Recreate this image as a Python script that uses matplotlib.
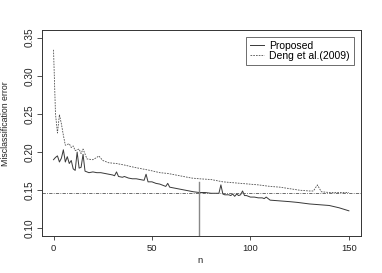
import numpy as np
import matplotlib
matplotlib.use('Agg')
import matplotlib.pyplot as plt

# values
n_prop = [0, 1, 2, 3, 4, 5, 6, 7, 8, 9, 10, 11, 12, 13, 14, 15, 16, 17, 18, 20,
          22, 24, 26, 28, 30, 31, 32, 33, 35, 36, 38, 40, 42, 44, 46, 47, 48, 50,
          52, 54, 56, 57, 58, 59, 61, 63, 65, 67, 69, 71, 74, 77, 80, 83, 84, 85,
          86, 87, 89, 90, 91, 92, 93, 94, 95, 96, 97, 98, 100, 102, 104, 106, 107,
          108, 109, 110, 115, 120, 124, 130, 135, 140, 145, 150]
err_prop = [0.190, 0.193, 0.195, 0.187, 0.192, 0.203, 0.187, 0.194, 0.185, 0.189,
            0.178, 0.176, 0.200, 0.179, 0.180, 0.197, 0.175, 0.174, 0.173, 0.174,
            0.173, 0.173, 0.172, 0.171, 0.170, 0.169, 0.174, 0.168, 0.167, 0.168,
            0.166, 0.165, 0.165, 0.164, 0.163, 0.171, 0.161, 0.161, 0.159, 0.158,
            0.156, 0.155, 0.159, 0.154, 0.153, 0.152, 0.151, 0.150, 0.149, 0.148,
            0.147, 0.147, 0.146, 0.146, 0.146, 0.157, 0.145, 0.144, 0.144, 0.143,
            0.145, 0.142, 0.145, 0.143, 0.144, 0.149, 0.143, 0.143, 0.141, 0.141,
            0.140, 0.140, 0.139, 0.141, 0.139, 0.137, 0.136, 0.135, 0.134, 0.132,
            0.131, 0.130, 0.127, 0.123]

n_deng = [0, 1, 2, 3, 4, 5, 6, 8, 9, 10, 11, 13, 14, 15, 17, 20, 22, 23, 25, 28,
          32, 36, 41, 45, 49, 54, 58, 62, 66, 70, 74, 80, 86, 95, 104, 110, 115,
          120, 125, 130, 132, 134, 136, 140, 145, 150]
err_deng = [0.334, 0.250, 0.225, 0.249, 0.237, 0.222, 0.209, 0.211, 0.206, 0.208,
            0.202, 0.204, 0.198, 0.204, 0.191, 0.190, 0.193, 0.195, 0.189, 0.186,
            0.185, 0.183, 0.180, 0.178, 0.176, 0.173, 0.172, 0.170, 0.168, 0.166,
            0.165, 0.164, 0.161, 0.159, 0.157, 0.155, 0.154, 0.152, 0.150, 0.149,
            0.149, 0.157, 0.148, 0.147, 0.147, 0.147]

h_level = 0.1465
v_at = 74
v_top = 0.161

xticks = [0, 50, 100, 150]
yticks = [0.10, 0.15, 0.20, 0.25, 0.30, 0.35]

narrow = ['Liberation Sans Narrow', 'Liberation Sans']

plt.rcParams.update({'font.family': 'Liberation Sans',
                     'font.size': 6.5,
                     'axes.linewidth': 0.7,
                     'axes.edgecolor': '#333333'})

fig = plt.figure(figsize=(3.82, 2.73), dpi=100)
ax = fig.add_axes([41.7/382, 1-236/273, 319/382, 206/273])

ax.plot(n_prop, err_prop, color='#383838', lw=0.7, label='Proposed')
ax.plot(n_deng, err_deng, color='#505050', lw=0.6, dashes=(2, 1.3),
        label='Deng et al.(2009)')
ax.axhline(h_level, color='#555555', lw=0.6, dashes=(4, 1.5, 1, 1.5))
ax.plot([v_at, v_at], [0.09, v_top], color='#888888', lw=1.0)

ax.set_xlim(-6, 156)
ax.set_ylim(0.09, 0.36)
ax.set_xticks(xticks)
ax.set_xticklabels(['%d' % t for t in xticks])
ax.set_yticks(yticks)
ax.set_yticklabels(['%.2f' % t for t in yticks], rotation=90, va='center',
                   family=narrow)
ax.tick_params(axis='x', length=3, width=0.6, pad=2.5, colors='#333333',
               labelcolor='#222222', labelsize=6.8)
ax.tick_params(axis='y', length=3.6, width=0.6, pad=1.5, colors='#333333',
               labelcolor='#222222', labelsize=7.2)

fig.text(5.3/382, 1-124/273, 'Misclassification error', rotation=90,
         ha='center', va='center', fontsize=6.3, color='#222222',
         family=narrow)
fig.text(200/382, 1-260.7/273, 'n', ha='center', va='center', fontsize=6.8,
         color='#222222')

leg = ax.legend(loc='upper right', bbox_to_anchor=(354/382, 1-36.7/273),
                bbox_transform=fig.transFigure, borderaxespad=0,
                fontsize=7.5, labelspacing=0.0, handlelength=1.3,
                handletextpad=0.5, borderpad=0.4,
                fancybox=False, framealpha=1)
leg.get_frame().set_edgecolor('#555555')
leg.get_frame().set_linewidth(0.6)

plt.savefig('out.png', dpi=100)
